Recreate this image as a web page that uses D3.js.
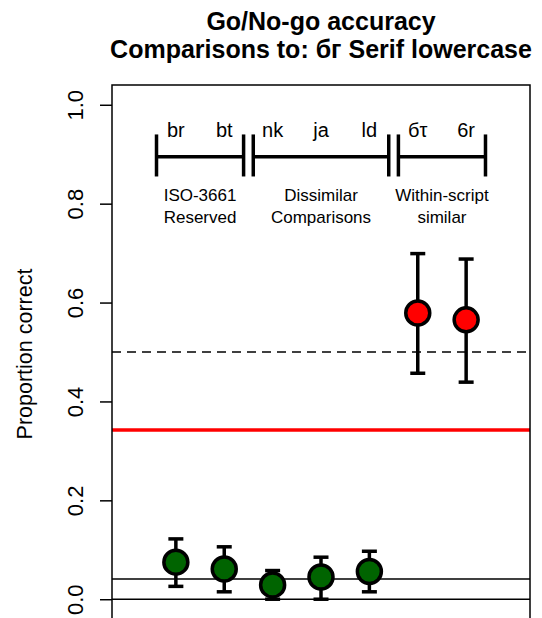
<!DOCTYPE html>
<html>
<head>
<meta charset="utf-8">
<script src="https://cdn.jsdelivr.net/npm/d3@7"></script>
<style>
  html, body { margin: 0; padding: 0; background: #fff; }
  svg { display: block; font-family: "Liberation Sans", Arial, Helvetica, sans-serif; }
</style>
</head>
<body>
<svg id="chart" width="542" height="618"></svg>
<script>
// Comparison stimuli and their go/no-go accuracy
const categories = ["br", "bt", "nk", "ja", "ld", "бτ", "6r"];
const meanAcc    = [0.075, 0.061, 0.029, 0.045, 0.056, 0.579, 0.565];
const upperCI    = [0.122, 0.106, 0.058, 0.085, 0.097, 0.699, 0.688];
const lowerCI    = [0.026, 0.015, 0.000, 0.000, 0.015, 0.457, 0.439];
const pointFill  = ["darkgreen", "darkgreen", "darkgreen", "darkgreen", "darkgreen", "red", "red"];

// Groups of comparisons shown as brackets at the top
const groupLabels = [["ISO-3661", "Reserved"], ["Dissimilar", "Comparisons"], ["Within-script", "similar"]];
const groupStart  = [0.6, 2.6, 5.6];
const groupEnd    = [2.4, 5.4, 7.4];
const groupCentre = [1.5, 4, 6.5];

// Reference levels
const chanceLevel = 0.5;
const redLevel    = 0.3425;
const floorLevel  = 0.041;
const zeroLevel   = 0;

const yTicks = [0, 0.2, 0.4, 0.6, 0.8, 1.0];

const svg = d3.select("#chart");
const plotLeft = 112, plotRight = 530, plotTop = 85, plotBottom = 619;

const x = d3.scaleLinear().domain([-0.32, 8.32]).range([plotLeft, plotRight]);
const y = d3.scaleLinear().domain([-0.04, 1.04]).range([plotBottom, plotTop]);

// Title
const title = svg.append("g").attr("font-weight", "bold").attr("font-size", 25).attr("text-anchor", "middle");
title.append("text").attr("x", (plotLeft + plotRight) / 2).attr("y", 30).text("Go/No-go accuracy");
title.append("text").attr("x", (plotLeft + plotRight) / 2).attr("y", 58).text("Comparisons to: бг Serif lowercase");

// Y axis
const yAxis = svg.append("g")
  .attr("transform", `translate(${plotLeft},0)`)
  .call(d3.axisLeft(y).tickValues(yTicks).tickSize(12).tickPadding(0).tickFormat(d3.format(".1f")));
yAxis.select(".domain").remove();
yAxis.selectAll(".tick line").attr("stroke", "#000").attr("stroke-width", 1.5);
yAxis.selectAll(".tick text")
  .attr("font-size", 22).attr("fill", "#000")
  .attr("text-anchor", "middle").attr("dy", null).attr("x", null)
  .attr("transform", "translate(-37,0) rotate(-90)")
  .attr("dominant-baseline", "central");

svg.append("text")
  .attr("transform", `translate(25,${(y(0) + y(1)) / 2 + 2}) rotate(-90)`)
  .attr("text-anchor", "middle").attr("dominant-baseline", "central")
  .attr("font-size", 21.5).text("Proportion correct");

// Reference lines
const ref = svg.append("g");
ref.append("line").attr("x1", plotLeft).attr("x2", plotRight).attr("y1", y(zeroLevel)).attr("y2", y(zeroLevel))
  .attr("stroke", "#000").attr("stroke-width", 1.5);
ref.append("line").attr("x1", plotLeft).attr("x2", plotRight).attr("y1", y(floorLevel)).attr("y2", y(floorLevel))
  .attr("stroke", "#000").attr("stroke-width", 1.5);
ref.append("line").attr("x1", plotLeft).attr("x2", plotRight).attr("y1", y(chanceLevel)).attr("y2", y(chanceLevel))
  .attr("stroke", "#000").attr("stroke-width", 1.5).attr("stroke-dasharray", "9,6");
ref.append("line").attr("x1", plotLeft).attr("x2", plotRight).attr("y1", y(redLevel)).attr("y2", y(redLevel))
  .attr("stroke", "red").attr("stroke-width", 3.5);

// Group brackets
const bracketY = 0.895, tickLo = 0.855, tickHi = 0.94;
const br = svg.append("g").attr("stroke", "#000").attr("stroke-width", 3.5);
groupStart.forEach((s, i) => {
  const e = groupEnd[i];
  br.append("line").attr("x1", x(s)).attr("x2", x(e)).attr("y1", y(bracketY)).attr("y2", y(bracketY));
  [s, e].forEach(v => br.append("line").attr("x1", x(v)).attr("x2", x(v)).attr("y1", y(tickLo)).attr("y2", y(tickHi)));
});

// Group names
const gl = svg.append("g").attr("font-size", 17).attr("text-anchor", "middle");
groupLabels.forEach((lines, i) => {
  lines.forEach((t, j) => {
    gl.append("text").attr("x", x(groupCentre[i])).attr("y", 201 + j * 22).text(t);
  });
});

// Category labels above the bracket
svg.append("g").attr("font-size", 20).attr("text-anchor", "middle")
  .selectAll("text").data(categories).join("text")
  .attr("x", (d, i) => x(i + 1)).attr("y", y(0.934)).text(d => d);

// Error bars
const capHalf = 7.5;
const eb = svg.append("g").attr("stroke", "#000").attr("stroke-width", 3.5);
categories.forEach((c, i) => {
  const cx = x(i + 1);
  eb.append("line").attr("x1", cx).attr("x2", cx).attr("y1", y(lowerCI[i])).attr("y2", y(upperCI[i]));
  eb.append("line").attr("x1", cx - capHalf).attr("x2", cx + capHalf).attr("y1", y(lowerCI[i])).attr("y2", y(lowerCI[i]));
  eb.append("line").attr("x1", cx - capHalf).attr("x2", cx + capHalf).attr("y1", y(upperCI[i])).attr("y2", y(upperCI[i]));
});

// Points
svg.append("g").selectAll("circle").data(meanAcc).join("circle")
  .attr("cx", (d, i) => x(i + 1)).attr("cy", d => y(d)).attr("r", 12)
  .attr("fill", (d, i) => pointFill[i]).attr("stroke", "#000").attr("stroke-width", 3.5);

// Plot frame
svg.append("rect").attr("x", plotLeft).attr("y", plotTop).attr("width", plotRight - plotLeft).attr("height", plotBottom - plotTop)
  .attr("fill", "none").attr("stroke", "#000").attr("stroke-width", 1.5);
</script>
</body>
</html>
